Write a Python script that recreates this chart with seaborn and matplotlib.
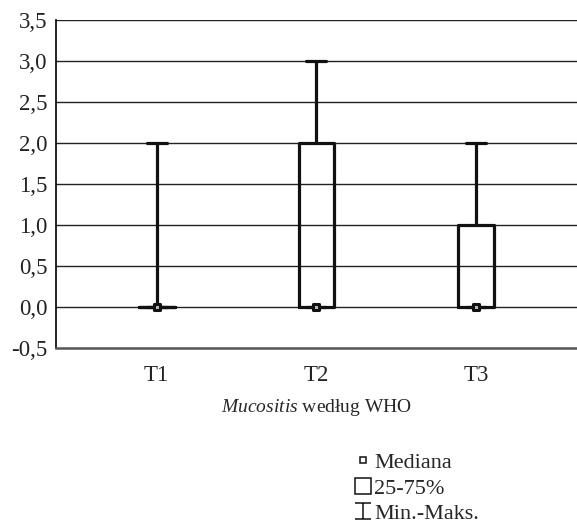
import matplotlib
matplotlib.use("Agg")
import matplotlib.pyplot as plt
import seaborn as sns
import numpy as np
from matplotlib.lines import Line2D
from matplotlib.path import Path

# ---- data ----
categories = ["T1", "T2", "T3"]
mins = [0.0, 0.0, 0.0]
q1s = [0.0, 0.0, 0.0]
medians = [0.0, 0.0, 0.0]
q3s = [0.0, 2.0, 1.0]
maxs = [2.0, 3.0, 2.0]
yticks = [-0.5, 0.0, 0.5, 1.0, 1.5, 2.0, 2.5, 3.0, 3.5]
xlabel = "$\\it{Mucositis}$ według WHO"
legend_labels = ["Mediana", "25-75%", "Min.-Maks."]

sns.set_theme(style="white")
plt.rcParams["font.family"] = ["Liberation Serif", "DejaVu Serif"]
plt.rcParams["mathtext.fontset"] = "custom"
plt.rcParams["mathtext.rm"] = "Liberation Serif"
plt.rcParams["mathtext.it"] = "Liberation Serif:italic"

fig = plt.figure(figsize=(5.77, 5.25), dpi=100)
ax = fig.add_axes([0.097, 0.337, 0.903, 0.625])

stats = []
for c, lo, a, m, b, hi in zip(categories, mins, q1s, medians, q3s, maxs):
    stats.append(dict(label=c, whislo=lo, q1=a, med=m, q3=b, whishi=hi, fliers=[]))

pos = np.arange(len(categories))
lw = 2.3
ax.bxp(stats, positions=pos, widths=0.225, showfliers=False, manage_ticks=False,
       boxprops=dict(color="#111111", linewidth=lw),
       whiskerprops=dict(color="#111111", linewidth=lw),
       capprops=dict(color="#111111", linewidth=lw),
       medianprops=dict(linestyle="none"), capwidths=0.125, zorder=3)

sns.scatterplot(x=pos, y=medians, ax=ax, marker="s", s=22, color="#bbbbbb",
                edgecolor="#111111", linewidth=2.2, zorder=4, legend=False)

ax.set_xlim(-0.63, 2.63)
ax.set_ylim(-0.5, 3.5)
ax.set_xticks(pos)
ax.set_xticklabels(categories)
ax.set_yticks(yticks)
ax.set_yticklabels([f"{v:.1f}".replace(".", ",") for v in yticks])
ax.tick_params(axis="both", labelsize=16.5, length=0, colors="#222222", pad=6)
ax.tick_params(axis="x", pad=12)
for v in yticks[1:]:
    ax.axhline(v, color="#222222", linewidth=1.0, zorder=1)
for s in ["top", "right"]:
    ax.spines[s].set_visible(False)
ax.spines["left"].set_color("#111111")
ax.spines["left"].set_linewidth(1.3)
ax.spines["bottom"].set_color("#555555")
ax.spines["bottom"].set_linewidth(1.8)
ax.set_xlabel(xlabel, fontsize=14, labelpad=8)
ax.set_ylabel("")

ibeam = Path([(-0.5, 0.5), (0.5, 0.5), (0, 0.5), (0, -0.5), (-0.5, -0.5), (0.5, -0.5)],
             [Path.MOVETO, Path.LINETO, Path.MOVETO, Path.LINETO, Path.MOVETO, Path.LINETO])
handles = [
    Line2D([], [], linestyle="none", marker="s", markersize=5, markerfacecolor="white",
           markeredgecolor="#111111", markeredgewidth=1.1),
    Line2D([], [], linestyle="none", marker="s", markersize=11, markerfacecolor="white",
           markeredgecolor="#111111", markeredgewidth=1.1),
    Line2D([], [], linestyle="none", marker=ibeam, markersize=11,
           markeredgecolor="#111111", markeredgewidth=1.1),
]
fig.legend(handles, legend_labels, loc="upper left", bbox_to_anchor=(0.6, 0.155),
           frameon=False, fontsize=16, handlelength=0.7, handletextpad=0.15,
           labelspacing=0.22, borderaxespad=0)

fig.savefig("out.png", dpi=100)
